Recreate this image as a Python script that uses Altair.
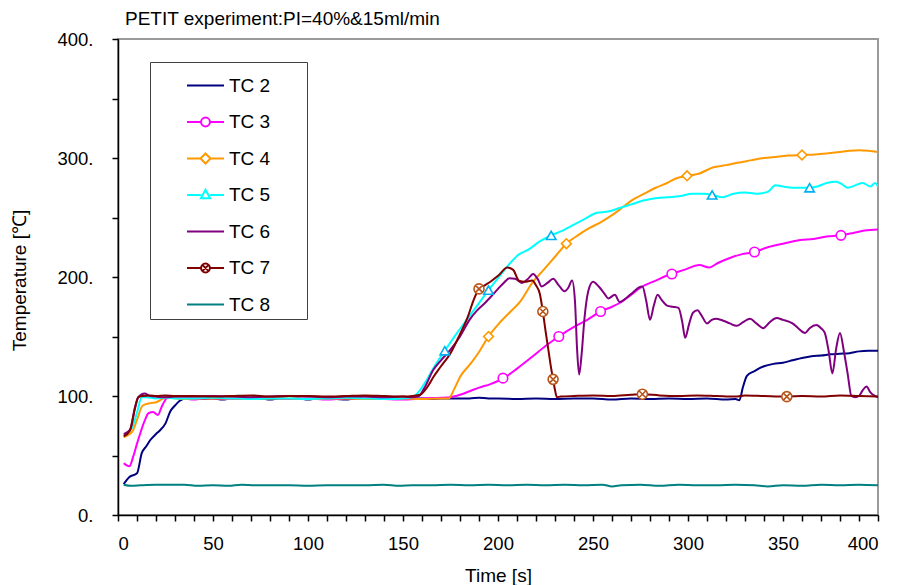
import altair as alt
import pandas as pd

series = ["TC 2", "TC 3", "TC 4", "TC 5", "TC 6", "TC 7", "TC 8"]
line_colors = ["#000080", "#ff00ff", "#ff9900", "#00ffff", "#800080", "#800000", "#008080"]

# ---------------- measured curves (time [s], temperature [C]) ----------------
t_tc2 = [3, 6, 10, 12.5, 15, 17, 20, 22, 25, 27.5, 30, 32.5, 36, 40,
         45, 50, 55, 60, 65, 70, 75, 80, 85, 90, 95, 100, 105, 110, 115, 120,
         125, 130, 135, 140, 145, 150, 155, 160, 165, 170, 175, 180, 185, 190, 195, 200,
         210, 220, 230, 240, 250, 260, 270, 280, 290, 300, 310, 320,
         325, 327, 329, 331,
         335, 340, 345, 350, 355, 360, 365, 370, 375, 380, 385, 390, 395, 400]
v_tc2 = [26, 32, 35, 52, 58, 63, 68, 71, 77, 87, 92, 96, 98, 98,
         97.5, 98, 97, 98, 98, 97.5, 98, 97, 98, 97.5, 98, 97, 98, 98, 97.5, 97,
         98, 97.5, 98, 97.5, 98, 97.5, 98, 98, 97.5, 98, 98, 98, 98, 98.5, 98, 98,
         97.5, 98, 97.5, 98, 98, 97, 98, 97.5, 98, 97.5, 98, 97,
         97.5, 96.5, 108, 117,
         121, 125, 127, 128, 130, 132, 133.5, 134, 135, 135.5, 136, 137.5, 138, 138]

t_tc3 = [3, 6, 8, 10, 12, 14, 16, 18.5, 21, 23, 25.5, 28, 30, 35, 40, 45,
         50, 60, 70, 80, 90, 100, 110, 120, 130, 140, 150, 160, 170,
         175, 180, 185, 190, 196, 203, 210, 218, 225, 232, 240, 247, 254, 260, 265,
         270, 275, 283, 291, 298, 306, 311, 316, 322, 328, 335, 342, 350, 359, 366,
         373, 380, 387, 393, 400]
v_tc3 = [43.5, 41, 49, 60, 70, 79, 85.5, 86.5, 84, 91, 98, 100, 98.5, 98, 97, 98,
         98, 97.5, 98, 98.5, 97.5, 98, 97, 98, 98, 97.5, 97, 98, 98.5,
         99, 101, 104, 107, 110, 115, 123, 133, 142, 150, 158, 164, 171, 175, 179,
         185, 191, 197, 202.5, 206, 210, 208, 212, 216, 219, 221, 225, 228, 231, 232,
         234, 235, 237, 239, 240]

t_tc4 = [3, 7.5, 10, 13, 17, 20.5, 24, 27, 30, 35, 40,
         50, 60, 70, 80, 90, 100, 110, 120, 130, 140, 150, 160, 170,
         174, 177, 180, 186, 190, 195, 200, 206, 212, 218, 224, 230, 236, 242, 248,
         254, 260, 266, 271, 277, 283, 289, 294, 300, 306, 313, 320, 326, 333, 340,
         347, 353, 360, 367, 374, 380, 385, 390, 395, 400]
v_tc4 = [65.5, 70, 80, 92, 94, 95, 98, 99, 98, 97.5, 98,
         98, 98, 97.5, 98, 98, 97.5, 98, 98, 97.5, 98, 98, 97.5, 98,
         98, 106, 116, 128, 137, 150, 160, 170, 180, 195, 206, 217, 228, 235, 241,
         246, 252, 259, 265, 270, 275, 279, 283, 285, 287, 292, 294, 296, 298, 300,
         301, 302, 302.5, 303, 304, 305, 306, 306.5, 306, 305]

t_tc5 = [3, 7.5, 10, 12.5, 15, 20, 25, 30,
         40, 50, 60, 70, 80, 90, 100, 110, 120, 130, 140, 150,
         155, 159, 163, 167, 172, 178, 184, 190, 195, 200, 206, 211, 216, 222, 228,
         234, 240, 246, 252, 258, 264, 270, 276, 282, 289, 296, 302, 308, 313, 318,
         324, 330, 336, 342, 346, 350, 355, 360, 364, 368, 373, 378, 381, 384, 388,
         392, 396, 398.5, 400]
v_tc5 = [67, 74, 86, 99, 99, 98, 98.5, 98,
         98, 98.5, 98, 97.5, 98, 98, 97.5, 98, 98.5, 98, 97.5, 98,
         99, 105, 115, 126, 138, 152, 165, 178, 189, 199, 211, 219, 223, 230, 235,
         239, 244, 249, 254, 255, 258, 261, 264, 266, 267, 268, 270, 270, 269, 267,
         270, 271, 270, 271.5, 277, 276, 275, 275, 275, 276, 279, 280, 278, 275, 277,
         279, 276, 279, 276]

t_tc6 = [3, 6.3, 9, 10.7, 14, 17, 20, 25, 30,
         40, 50, 60, 70, 80, 90, 100, 110, 120, 130, 140, 150,
         155, 158, 161, 166, 170, 175, 180, 185, 189, 193,
         196, 200, 203, 206, 209, 212.6, 215.5, 218.5, 221, 223,
         226, 229, 232, 235, 237, 239, 240.5, 241.6, 242.7, 244,
         245.5, 247.5, 250, 253, 256, 258, 261.5, 264, 268, 271,
         274, 276, 278, 280, 282, 284, 286, 289, 292, 295,
         297, 298.5, 300.5, 302.6, 305, 307, 310, 312.5, 315, 319,
         322, 325.6, 329, 332.6, 336, 339.6, 343, 346.6, 350, 355,
         358, 361.6, 364, 367.6, 370, 372, 374, 376, 378, 380,
         382, 384, 386, 388, 390, 392, 394, 396, 398.5, 400]
v_tc6 = [68, 71.5, 91, 99, 102, 100, 99.5, 99, 99.5,
         99.5, 100, 99.5, 99, 99.5, 100, 99.5, 99, 99.5, 99.5, 99, 99.5,
         99, 99.5, 106, 122, 130, 139, 150, 164, 172, 178,
         183, 190, 195, 199, 198.5, 195, 198, 202.5, 198, 192,
         195, 198.5, 193, 188, 191, 197, 180, 140, 118, 135,
         165, 188, 196, 192, 186, 182, 185, 179, 183, 187,
         191, 192, 180, 164, 176, 185, 181, 176, 175, 174,
         162, 149, 160, 170, 172, 168, 161, 164, 165, 163,
         161, 159, 162, 165, 161, 157, 162, 165.5, 164, 161,
         157, 153, 157, 159.6, 157, 153, 138, 119, 140, 153,
         138, 119, 100, 99, 100, 105, 108, 103, 100, 99]

t_tc7 = [3, 6.3, 9, 10.7, 13, 17, 20, 25, 30,
         40, 50, 60, 70, 80, 90, 100, 110, 120, 130, 140, 150,
         155, 159, 163, 166, 170, 175, 180, 184, 187, 190,
         193, 196, 200, 205, 208, 211, 214, 218, 220, 222,
         223.6, 225, 226.5, 228, 229, 230, 231, 233, 240, 250,
         260, 270, 276, 285, 295, 305, 315, 325, 330, 340,
         352, 360, 370, 380, 390, 400]
v_tc7 = [66, 71, 90, 99, 100, 100.5, 100, 100.5, 100,
         100, 99.5, 100, 100.5, 99.5, 100, 100, 99.5, 100, 100.5, 100, 99.5,
         100, 101, 108, 116, 125, 136, 152, 166, 180, 190,
         193, 196, 201, 208, 206, 197, 196, 197, 193, 186,
         171, 155, 139, 123, 114, 105, 99, 99.5, 100, 100.5,
         100, 101, 101.5, 100.5, 100, 100.5, 100, 99.5, 100.5, 100,
         99.5, 100, 99.5, 100.5, 100, 99.5]

t_tc8 = [3, 7, 12, 20, 28, 35, 42, 50, 58, 65,
         72, 80, 90, 100, 110, 120, 130, 140, 148, 155,
         165, 175, 185, 195, 205, 215, 225, 235, 245, 255,
         260, 265, 275, 285, 295, 305, 315, 325, 335, 342,
         350, 360, 370, 380, 390, 400]
v_tc8 = [25.5, 24.5, 25, 25.5, 25.5, 25.5, 24.5, 25, 24.5, 25.5,
         25, 25, 25, 24.5, 25, 25, 25, 25.5, 24.5, 25,
         25, 25.5, 25, 25.5, 25, 25.5, 25, 25.5, 25, 25.5,
         24, 25, 25.5, 24.5, 25.5, 25, 25, 25.5, 25, 24,
         25, 24.5, 25.5, 25, 25.5, 25]

# ---------------- marker positions ----------------
mk_t_tc3 = [202.6, 232, 254, 291.5, 335, 380.5]
mk_v_tc3 = [115, 150, 171, 202.5, 221, 235]
mk_t_tc4 = [195, 236, 299.5, 360]
mk_v_tc4 = [150, 228, 285, 302.5]
mk_t_tc5 = [172, 195, 228, 312.7, 364]
mk_v_tc5 = [138, 189, 235, 269, 275]
mk_t_tc7 = [190, 223.6, 229, 276, 352]
mk_v_tc7 = [190, 171, 114, 101.5, 99.5]

OTIMES = "M-1,0A1,1 0 1,1 1,0A1,1 0 1,1 -1,0M-0.7,-0.7L0.7,0.7M-0.7,0.7L0.7,-0.7"

# legend symbols: line segment with optional marker
LEG_LINE = "M-1,0L1,0"
LEG_CIRCLE = "M-1,0L-0.24,0M0.24,0L1,0M-0.24,0A0.24,0.24 0 1,1 0.24,0A0.24,0.24 0 1,1 -0.24,0"
LEG_DIAMOND = "M-1,0L-0.27,0M0.27,0L1,0M-0.27,0L0,-0.27L0.27,0L0,0.27Z"
LEG_TRIANGLE = "M-1,0L-0.25,0M0.25,0L1,0M0,-0.28L0.25,0.17L-0.25,0.17Z"
LEG_OTIMES = ("M-1,0L-0.24,0M0.24,0L1,0M-0.24,0A0.24,0.24 0 1,1 0.24,0A0.24,0.24 0 1,1 -0.24,0"
              "M-0.17,-0.17L0.17,0.17M-0.17,0.17L0.17,-0.17")
legend_shapes = [LEG_LINE, LEG_CIRCLE, LEG_DIAMOND, LEG_TRIANGLE, LEG_LINE, LEG_OTIMES, LEG_LINE]

rows = []
for name, ts, vs in [("TC 2", t_tc2, v_tc2), ("TC 3", t_tc3, v_tc3), ("TC 4", t_tc4, v_tc4),
                     ("TC 5", t_tc5, v_tc5), ("TC 6", t_tc6, v_tc6), ("TC 7", t_tc7, v_tc7),
                     ("TC 8", t_tc8, v_tc8)]:
    assert len(ts) == len(vs), name
    rows += [{"series": name, "t": a, "T": b} for a, b in zip(ts, vs)]
df = pd.DataFrame(rows)

mrows = []
for name, ts, vs, shp, col, sz in [
        ("TC 3", mk_t_tc3, mk_v_tc3, "circle", "#ff00ff", 90),
        ("TC 4", mk_t_tc4, mk_v_tc4, "diamond", "#ff9900", 95),
        ("TC 5", mk_t_tc5, mk_v_tc5, "triangle-up", "#00b0f0", 90),
        ("TC 7", mk_t_tc7, mk_v_tc7, OTIMES, "#b8561c", 100)]:
    assert len(ts) == len(vs), name
    mrows += [{"series": name, "t": a, "T": b, "shape": shp, "mcolor": col, "msize": sz}
              for a, b in zip(ts, vs)]
mdf = pd.DataFrame(mrows)

ldf = pd.DataFrame({"series": series, "t": [0] * 7, "T": [0] * 7})

FONT = "Liberation Sans"

x_enc = alt.X("t:Q", scale=alt.Scale(domain=[0, 400], nice=False, zero=False),
              axis=alt.Axis(values=list(range(0, 401, 10)),
                            labelExpr="datum.value % 50 === 0 ? datum.label : ''",
                            title="Time [s]", titleY=51, titleBaseline="top",
                            labelPadding=13, tickSize=6))
y_enc = alt.Y("T:Q", scale=alt.Scale(domain=[0, 400], nice=False),
              axis=alt.Axis(values=list(range(0, 401, 50)),
                            labelExpr="datum.value % 100 === 0 ? datum.value + '.' : ''",
                            title="Temperature [℃]", titleX=-93, titleY=241,
                            titleAngle=270, titleBaseline="alphabetic",
                            labelPadding=19, tickSize=6))

color_scale = alt.Scale(domain=series, range=line_colors)

leg = alt.Legend(title=" ", titleOrient="right", titlePadding=33, titleFontSize=19,
                 orient="none", legendX=32, legendY=23, padding=4,
                 strokeColor="#404040", fillColor="white",
                 labelFont=FONT, labelFontSize=19, labelColor="black",
                 symbolSize=1369, symbolStrokeWidth=2, symbolOffset=32,
                 labelOffset=4, rowPadding=6.5, symbolFillColor="white")

lines = alt.Chart(df).mark_line(strokeWidth=2, interpolate="monotone", clip=True).encode(
    x=x_enc, y=y_enc,
    color=alt.Color("series:N", scale=color_scale, legend=leg),
)

markers = alt.Chart(mdf).mark_point(filled=False, fill="white", fillOpacity=1,
                                    strokeWidth=1.6, opacity=1).encode(
    x=x_enc, y=y_enc,
    shape=alt.Shape("shape:N", scale=None),
    color=alt.Color("mcolor:N", scale=None),
    size=alt.Size("msize:Q", scale=None),
)

# legend-only layer: no rows survive the filter, the explicit domains keep the legend entries
legend_layer = alt.Chart(ldf).transform_filter("datum.T > 1000").mark_point(
    filled=False, strokeWidth=2, size=1369).encode(
    x=x_enc, y=y_enc,
    color=alt.Color("series:N", scale=color_scale, legend=leg),
    shape=alt.Shape("series:N", scale=alt.Scale(domain=series, range=legend_shapes), legend=leg),
)

chart = alt.layer(lines, markers, legend_layer).properties(
    width=760, height=476,
    padding={"left": 118, "top": 39, "right": 19, "bottom": 70},
    autosize=alt.AutoSizeParams(type="none"),
    title=alt.TitleParams(text="PETIT experiment:PI=40%&15ml/min", anchor="start",
                          frame="group", fontSize=19, font=FONT, fontWeight="normal",
                          color="black", dx=7, offset=1),
).configure(font=FONT).configure_view(
    stroke="#9a9a9a", strokeWidth=2
).configure_axis(
    grid=False, domainColor="black", domainWidth=1.5, tickColor="black", tickWidth=1.5,
    labelFont=FONT, labelFontSize=18.5, labelColor="black",
    titleFont=FONT, titleFontSize=19, titleColor="black", titleFontWeight="normal",
)

chart.save("out.html", embed_options={"renderer": "svg", "actions": False})
